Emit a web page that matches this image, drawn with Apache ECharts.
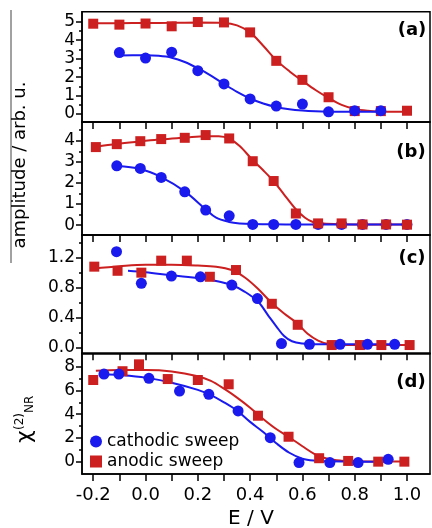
<!DOCTYPE html>
<html><head><meta charset="utf-8">
<script src="https://cdn.jsdelivr.net/npm/echarts@6/dist/echarts.min.js"></script>
<style>html,body{margin:0;padding:0;background:#fff}#c{width:432px;height:528px}</style>
</head><body><div id="c"></div>
<script>
// ---- tick values / labels ----
const xTickValues = [-0.2,-0.1,0,0.1,0.2,0.3,0.4,0.5,0.6,0.7,0.8,0.9,1.0];
const xTickLabelValues = [-0.2,0,0.2,0.4,0.6,0.8,1.0];
const panelLetters = ['(a)','(b)','(c)','(d)'];
const legendNames = ['cathodic sweep','anodic sweep'];

const aYLabels = [0,1,2,3,4,5];
const aYMinor = [0.5,1.5,2.5,3.5,4.5];
const bYLabels = [0,1,2,3,4];
const bYMinor = [0.5,1.5,2.5,3.5,4.5];
const cYLabels = [0,0.4,0.8,1.2];
const cYMinor = [0.2,0.6,1.0,1.4];
const dYLabels = [0,2,4,6,8];
const dYMinor = [1,3,5,7];

// ---- panel (a) ----
const aRedX = [-0.2,-0.1,0,0.1,0.2,0.3,0.4,0.5,0.6,0.7,0.8,0.9,1.0];
const aRedY = [4.89,4.84,4.9,4.75,4.98,4.96,4.42,2.88,1.85,0.91,0.16,0.16,0.18];
const aBlueX = [-0.1,0,0.1,0.2,0.3,0.4,0.5,0.6,0.7,0.8,0.9];
const aBlueY = [3.33,3.03,3.35,2.35,1.63,0.82,0.43,0.54,0.12,0.18,0.18];
const aRedFitX = [-0.2,-0.1,0,0.1,0.2,0.3,0.35,0.4,0.45,0.5,0.55,0.6,0.65,0.7,0.75,0.8,0.85,0.9,0.95,1.0];
const aRedFitY = [4.92,4.92,4.93,4.94,4.95,4.93,4.8,4.42,3.7,2.92,2.32,1.8,1.3,0.87,0.5,0.28,0.18,0.14,0.13,0.13];
const aBlueFitX = [-0.1,-0.05,0,0.05,0.1,0.15,0.2,0.25,0.3,0.35,0.4,0.45,0.5,0.55,0.6,0.65,0.7,0.8,0.92];
const aBlueFitY = [3.17,3.18,3.18,3.15,3.05,2.82,2.48,2.08,1.63,1.2,0.84,0.57,0.38,0.26,0.19,0.15,0.13,0.12,0.12];

// ---- panel (b) ----
const bRedX = [-0.19,-0.11,-0.02,0.06,0.15,0.23,0.32,0.41,0.49,0.575,0.66,0.75,0.83,0.92,1.0];
const bRedY = [3.70,3.84,3.98,4.08,4.14,4.27,4.11,3.03,2.09,0.55,0.08,0.08,0.03,0.03,0.02];
const bBlueX = [-0.11,-0.02,0.06,0.15,0.23,0.32,0.41,0.49,0.575,0.66,0.75,0.83,0.92,1.0];
const bBlueY = [2.81,2.69,2.26,1.58,0.71,0.44,0.03,0.03,0.03,0.03,0.03,0.03,0.03,0.03];
const bRedFitX = [-0.19,-0.11,-0.02,0.06,0.15,0.23,0.28,0.32,0.36,0.41,0.45,0.49,0.53,0.575,0.61,0.64,0.68,0.75,0.85,1.0];
const bRedFitY = [3.72,3.85,3.97,4.07,4.15,4.22,4.22,4.1,3.75,3.08,2.6,2.08,1.45,0.75,0.35,0.15,0.07,0.04,0.03,0.03];
const bBlueFitX = [-0.11,-0.02,0.06,0.15,0.23,0.27,0.32,0.36,0.41,0.49,0.58,0.7,0.85,1.0];
const bBlueFitY = [2.8,2.66,2.28,1.6,0.75,0.35,0.15,0.08,0.05,0.04,0.03,0.03,0.03,0.03];

// ---- panel (c) ----
const cRedX = [-0.196,-0.107,-0.016,0.06,0.158,0.246,0.346,0.483,0.582,0.712,0.82,0.902,1.01];
const cRedY = [1.075,1.02,0.995,1.155,1.155,0.94,1.03,0.58,0.30,0.03,0.03,0.03,0.03];
const cBlueX = [-0.111,-0.016,0.099,0.21,0.33,0.428,0.52,0.627,0.744,0.849,0.953];
const cBlueY = [1.275,0.853,0.95,0.94,0.83,0.65,0.05,0.04,0.04,0.04,0.04];
const cRedFitX = [-0.2,-0.1,0,0.1,0.2,0.27,0.33,0.38,0.43,0.48,0.53,0.58,0.62,0.66,0.7,0.8,0.9,1.0];
const cRedFitY = [1.05,1.08,1.1,1.1,1.09,1.075,1.03,0.93,0.78,0.6,0.45,0.32,0.18,0.09,0.045,0.03,0.03,0.03];
const cBlueFitX = [-0.067,0,0.1,0.21,0.284,0.33,0.38,0.43,0.47,0.5,0.53,0.56,0.6,0.65,0.7,0.8,0.953];
const cBlueFitY = [1.02,1.0,0.96,0.92,0.875,0.83,0.74,0.61,0.42,0.28,0.15,0.08,0.05,0.04,0.04,0.04,0.04];

// ---- panel (d) ----
const dRedX = [-0.2,-0.088,-0.025,0.085,0.2,0.318,0.43,0.547,0.664,0.775,0.89,0.99];
const dRedY = [6.88,7.62,8.2,6.96,6.88,6.52,3.87,2.1,0.29,0.06,0.0,0.0];
const dBlueX = [-0.159,-0.102,0.013,0.13,0.242,0.354,0.477,0.587,0.705,0.813,0.928];
const dBlueY = [7.38,7.38,7.02,5.95,5.67,4.27,2.02,-0.08,-0.08,-0.08,0.2];
const dRedFitX = [-0.19,-0.1,0,0.1,0.2,0.25,0.3,0.35,0.4,0.45,0.5,0.55,0.6,0.65,0.7,0.75,0.8,0.9,1.0];
const dRedFitY = [7.66,7.72,7.72,7.6,7.2,6.8,6.15,5.4,4.55,3.6,2.75,2.05,1.3,0.6,0.22,0.08,0.04,0.02,0.02];
const dBlueFitX = [-0.16,-0.1,0,0.1,0.2,0.25,0.3,0.35,0.4,0.45,0.5,0.55,0.6,0.65,0.7,0.8,0.93];
const dBlueFitY = [7.36,7.3,7.08,6.65,6.05,5.6,5.0,4.3,3.35,2.5,1.55,0.75,0.25,0.08,0.03,0.0,0.0];

const RED = '#cc1f1f', BLUE = '#1a1aee';
const FONT = 'DejaVu Sans';
const zip = (xs, ys) => xs.map((x, i) => [x, ys[i]]);

const panels = [
  {top:11.7, height:110.3, min:-0.43, max:5.54, labels:aYLabels, minor:aYMinor, dec:0,
   red:[aRedX,aRedY], blue:[aBlueX,aBlueY], redFit:[aRedFitX,aRedFitY], blueFit:[aBlueFitX,aBlueFitY], redTop:false, letterXY:[412,30]},
  {top:122, height:113, min:-0.47, max:4.89, labels:bYLabels, minor:bYMinor, dec:0,
   red:[bRedX,bRedY], blue:[bBlueX,bBlueY], redFit:[bRedFitX,bRedFitY], blueFit:[bBlueFitX,bBlueFitY], redTop:true, letterXY:[411,152]},
  {top:235, height:118.3, min:-0.08, max:1.497, labels:cYLabels, minor:cYMinor, dec:1,
   red:[cRedX,cRedY], blue:[cBlueX,cBlueY], redFit:[cRedFitX,cRedFitY], blueFit:[cBlueFitX,cBlueFitY], redTop:false, letterXY:[412,258]},
  {top:353.3, height:120.7, min:-1.04, max:9.13, labels:dYLabels, minor:dYMinor, dec:0,
   red:[dRedX,dRedY], blue:[dBlueX,dBlueY], redFit:[dRedFitX,dRedFitY], blueFit:[dBlueFitX,dBlueFitY], redTop:false, letterXY:[411,382]}
];

const grid = [], xAxis = [], yAxis = [], series = [], graphic = [];
panels.forEach((p, i) => {
  grid.push({left:82, width:348, top:p.top, height:p.height, show:true, borderColor:'#000', borderWidth:1.5, backgroundColor:'transparent'});
  xAxis.push({
    type:'value', gridIndex:i, min:-0.243, max:1.088,
    axisLine:{show:true, onZero:false, lineStyle:{color:'#000', width:1.5}},
    axisTick:{show:true, inside:false, length:7, customValues:xTickValues, lineStyle:{color:'#000', width:1.5}},
    axisLabel:{show:i===3, customValues:xTickLabelValues, margin:12, fontSize:18, fontFamily:FONT, color:'#000',
      formatter:v => v.toFixed(1)},
    splitLine:{show:false}
  });
  yAxis.push({
    type:'value', gridIndex:i, min:p.min, max:p.max,
    axisLine:{show:true, onZero:false, lineStyle:{color:'#000', width:1.5}},
    axisTick:{show:true, inside:false, length:6, customValues:p.labels, lineStyle:{color:'#000', width:1.5}},
    axisLabel:{show:true, customValues:p.labels, margin:7, fontSize:17, fontFamily:FONT, color:'#000',
      formatter:v => v.toFixed(p.dec)},
    splitLine:{show:false}
  });
  yAxis.push({
    type:'value', gridIndex:i, min:p.min, max:p.max, position:'left',
    axisLine:{show:false, onZero:false},
    axisTick:{show:true, inside:false, length:3, customValues:p.minor, lineStyle:{color:'#000', width:1.5}},
    axisLabel:{show:false},
    splitLine:{show:false}
  });
  const yi = 2*i;
  series.push({type:'line', name:'redfit'+i, xAxisIndex:i, yAxisIndex:yi, data:zip(p.redFit[0], p.redFit[1]),
    smooth:0.35, showSymbol:false, symbol:'none', lineStyle:{color:RED, width:2}, z:2, silent:true});
  series.push({type:'line', name:'bluefit'+i, xAxisIndex:i, yAxisIndex:yi, data:zip(p.blueFit[0], p.blueFit[1]),
    smooth:0.35, showSymbol:false, symbol:'none', lineStyle:{color:BLUE, width:2}, z:2, silent:true});
  series.push({type:'scatter', name: i===3 ? legendNames[1] : 'red'+i, xAxisIndex:i, yAxisIndex:yi,
    data:zip(p.red[0], p.red[1]), symbol:'rect', symbolSize:10, itemStyle:{color:RED, opacity:1}, z:p.redTop?5:3, clip:false});
  series.push({type:'scatter', name: i===3 ? legendNames[0] : 'blue'+i, xAxisIndex:i, yAxisIndex:yi,
    data:zip(p.blue[0], p.blue[1]), symbol:'circle', symbolSize:11, itemStyle:{color:BLUE, opacity:1}, z:p.redTop?3:5, clip:false});
  graphic.push({type:'text', x:p.letterXY[0], y:p.letterXY[1], z:10,
    style:{text:panelLetters[i], font:'bold 18px "DejaVu Sans"', fill:'#000', align:'center', verticalAlign:'middle'}});
});

// axis titles
graphic.push({type:'line', shape:{x1:11, y1:10, x2:11, y2:263}, style:{stroke:'#444', lineWidth:1}});
graphic.push({type:'text', x:20, y:165, rotation:Math.PI/2,
  style:{text:'amplitude / arb. u.', fontSize:18, fontFamily:FONT, fill:'#000', align:'center', verticalAlign:'middle'}});
graphic.push({type:'text', x:251, y:519,
  style:{text:'E / V', fontSize:20, fontFamily:FONT, fill:'#000', align:'center', verticalAlign:'middle'}});
graphic.push({type:'group', x:25, y:419, rotation:Math.PI/2, children:[
  {type:'text', x:-24, y:0, style:{text:'χ', fontSize:22, fontFamily:FONT, fill:'#000', align:'left', verticalAlign:'middle'}},
  {type:'text', x:-11, y:-5, style:{text:'(2)', fontSize:12, fontFamily:FONT, fill:'#000', align:'left', verticalAlign:'middle'}},
  {type:'text', x:6, y:5, style:{text:'NR', fontSize:12, fontFamily:FONT, fill:'#000', align:'left', verticalAlign:'middle'}}
]});

const chart = echarts.init(document.getElementById('c'), null, {renderer:'canvas'});
chart.setOption({
  animation:false,
  backgroundColor:'#fff',
  textStyle:{fontFamily:FONT},
  grid, xAxis, yAxis, series, graphic,
  legend:{
    data:[{name:legendNames[0], icon:'circle'}, {name:legendNames[1], icon:'rect'}],
    orient:'vertical', left:85, top:428, itemWidth:12, itemHeight:12, itemGap:3,
    selectedMode:false,
    textStyle:{fontSize:17, fontFamily:FONT, color:'#000'}
  }
});
</script></body></html>
